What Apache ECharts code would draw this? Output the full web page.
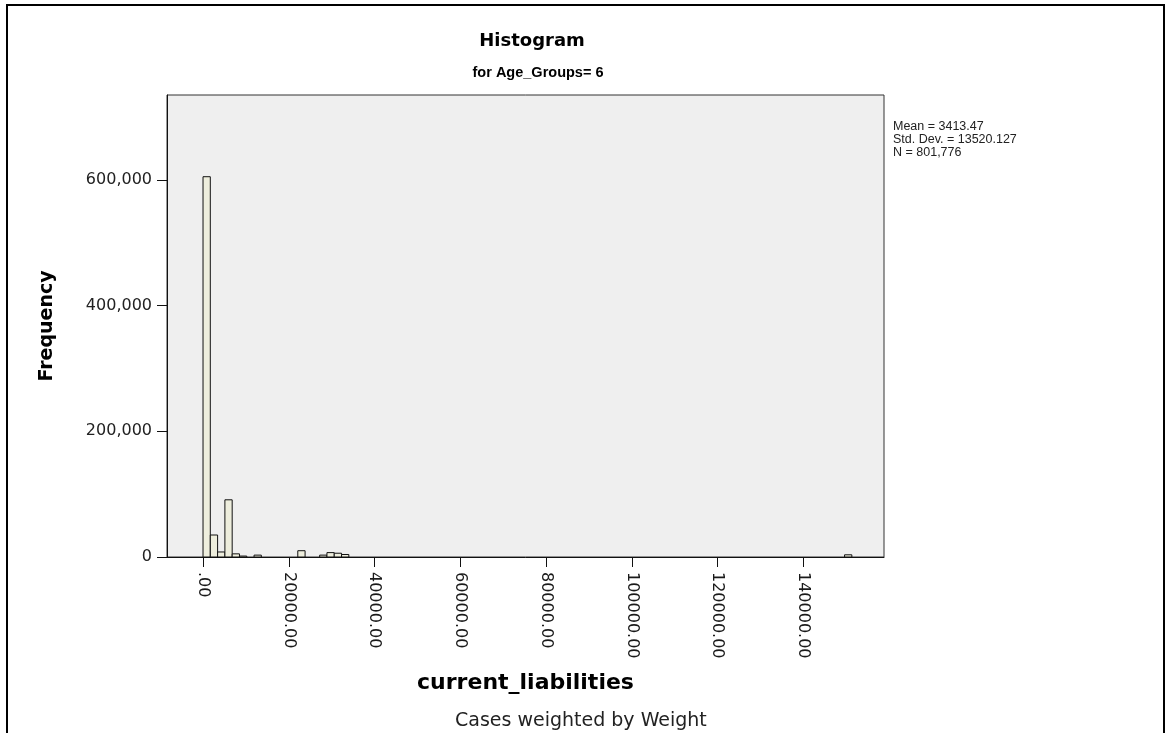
<!DOCTYPE html>
<html>
<head>
<meta charset="utf-8">
<style>
  html, body { margin: 0; padding: 0; background: #ffffff; }
  #chart { width: 1167px; height: 733px; }
</style>
<script src="https://cdn.jsdelivr.net/npm/echarts@6/dist/echarts.min.js"></script>
</head>
<body>
<div id="chart"></div>
<script>
// Histogram of current_liabilities, Age_Groups = 6 (weighted frequencies)
const binWidth = 1700;
const binStarts = [0, 1700, 3400, 5100, 6800, 8500, 11900, 22100, 27200, 28900, 30600, 32300, 149600];
const binCounts = [605000, 35000, 8000, 91000, 5000, 1500, 3000, 10000, 3000, 7000, 6000, 4000, 3500];

const xTicks = [0, 20000, 40000, 60000, 80000, 100000, 120000, 140000];
const yTicks = [0, 200000, 400000, 600000];

const statLines = ['Mean = 3413.47', 'Std. Dev. = 13520.127', 'N = 801,776'];

const bins = binStarts.map((s, i) => [s, s + binWidth, binCounts[i]]);

const FONT = '"Liberation Sans", Arial, sans-serif';
const WIDE = '"DejaVu Sans", Verdana, sans-serif';

const chart = echarts.init(document.getElementById('chart'));

chart.setOption({
  animation: false,
  backgroundColor: '#ffffff',
  textStyle: { fontFamily: FONT },
  title: [
    {
      text: 'Histogram',
      left: 527, top: 27, textAlign: 'center',
      textStyle: { fontFamily: WIDE, fontSize: 18, fontWeight: 'bold', color: '#000' }
    },
    {
      text: 'for Age_Groups= 6',
      left: 533, top: 60, textAlign: 'center',
      textStyle: { fontFamily: FONT, fontSize: 14.5, fontWeight: 'bold', color: '#000' }
    },
    {
      text: 'Cases weighted by Weight',
      left: 450, top: 707,
      textStyle: { fontFamily: WIDE, fontSize: 19, fontWeight: 'normal', color: '#222' }
    }
  ],
  grid: {
    left: 167, right: 283, top: 95, bottom: 176,
    show: true,
    backgroundColor: '#efefef',
    borderColor: '#333',
    borderWidth: 1
  },
  xAxis: {
    type: 'value',
    min: -8400,
    max: 158800,
    name: 'current_liabilities',
    nameLocation: 'middle',
    nameGap: 115,
    nameTextStyle: { fontFamily: WIDE, fontSize: 22, fontWeight: 'bold', color: '#000' },
    axisLine: { show: true, onZero: false, lineStyle: { color: '#111', width: 1 } },
    axisTick: { show: true, length: 10, inside: false, customValues: xTicks, lineStyle: { color: '#111' } },
    axisLabel: {
      customValues: xTicks,
      rotate: -90,
      margin: 15,
      fontFamily: WIDE,
      fontSize: 16,
      color: '#1a1a1a',
      formatter: v => (v === 0 ? '.00' : v.toFixed(2))
    },
    splitLine: { show: false }
  },
  yAxis: {
    type: 'value',
    min: 0,
    max: 735000,
    name: 'Frequency',
    nameLocation: 'middle',
    nameGap: 110,
    nameRotate: 90,
    nameTextStyle: { fontFamily: WIDE, fontSize: 19, fontWeight: 'bold', color: '#000' },
    axisLine: { show: true, onZero: false, lineStyle: { color: '#111', width: 1 } },
    axisTick: { show: true, length: 10, inside: false, customValues: yTicks, lineStyle: { color: '#111' } },
    axisLabel: {
      customValues: yTicks,
      margin: 15,
      fontFamily: WIDE,
      fontSize: 16,
      color: '#222',
      formatter: v => v.toLocaleString('en-US')
    },
    splitLine: { show: false }
  },
  series: [
    {
      type: 'custom',
      data: bins,
      encode: { x: [0, 1], y: 2 },
      renderItem: function (params, api) {
        const p0 = api.coord([api.value(0), api.value(2)]);
        const p1 = api.coord([api.value(1), 0]);
        return {
          type: 'rect',
          shape: { x: p0[0], y: p0[1], width: p1[0] - p0[0], height: p1[1] - p0[1] },
          style: { fill: '#eeeedd', stroke: '#111', lineWidth: 1 }
        };
      }
    }
  ],
  graphic: [
    {
      type: 'polyline',
      shape: { points: [[7, 733], [7, 5], [1164, 5], [1164, 733]] },
      style: { stroke: '#000', lineWidth: 2, fill: null }
    },
    {
      type: 'text',
      left: 893, top: 120,
      style: {
        text: statLines.join('\n'),
        fontFamily: FONT,
        fontSize: 12.5,
        lineHeight: 13,
        fill: '#222'
      }
    }
  ]
});
</script>
</body>
</html>
